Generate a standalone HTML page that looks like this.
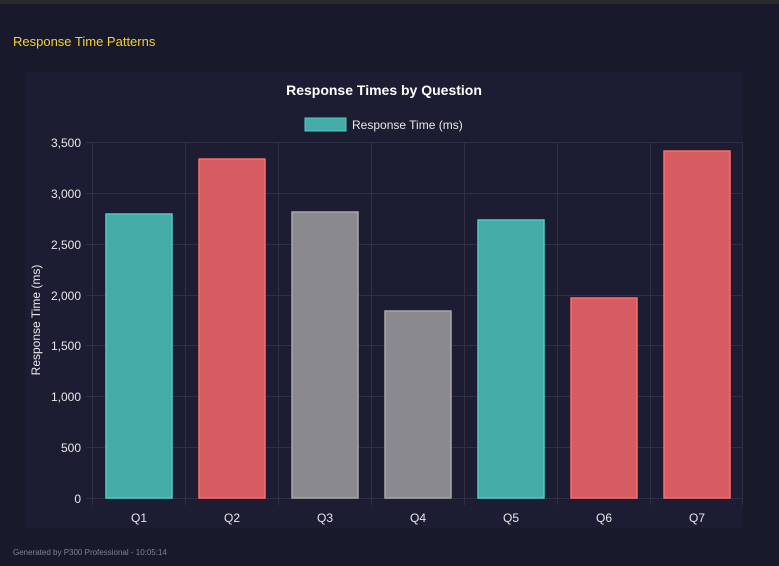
<!DOCTYPE html>
<html><head><style>
html,body{margin:0;padding:0;background:#181a2b;width:779px;height:566px;overflow:hidden;font-family:"Liberation Sans",sans-serif}
</style></head><body>
<svg width="779" height="566" xmlns="http://www.w3.org/2000/svg" font-family="Liberation Sans, sans-serif">
<rect x="0" y="0" width="779" height="566" fill="#181a2b"/>
<rect x="0" y="0" width="779" height="4" fill="#2a2a2e"/>
<text x="13" y="46" font-size="13" fill="#f5d033">Response Time Patterns</text>
<rect x="25" y="72" width="718" height="456" fill="#1c1d33"/>
<text x="384" y="95" font-size="14" font-weight="bold" fill="#ffffff" text-anchor="middle">Response Times by Question</text>
<rect x="305" y="118" width="41" height="13" fill="#44aba7" stroke="#4ecdc4" stroke-width="1"/>
<text x="352" y="129" font-size="12" fill="#e8e8e8">Response Time (ms)</text>
<g stroke="#2e3045" stroke-width="1">
<line x1="86" y1="142.5" x2="743" y2="142.5"/>
<line x1="86" y1="193.5" x2="743" y2="193.5"/>
<line x1="86" y1="244.5" x2="743" y2="244.5"/>
<line x1="86" y1="295.5" x2="743" y2="295.5"/>
<line x1="86" y1="345.5" x2="743" y2="345.5"/>
<line x1="86" y1="396.5" x2="743" y2="396.5"/>
<line x1="86" y1="447.5" x2="743" y2="447.5"/>
<line x1="86" y1="498.5" x2="743" y2="498.5"/>
<line x1="92.5" y1="142" x2="92.5" y2="505"/>
<line x1="185.5" y1="142" x2="185.5" y2="505"/>
<line x1="278.5" y1="142" x2="278.5" y2="505"/>
<line x1="371.5" y1="142" x2="371.5" y2="505"/>
<line x1="464.5" y1="142" x2="464.5" y2="505"/>
<line x1="557.5" y1="142" x2="557.5" y2="505"/>
<line x1="650.5" y1="142" x2="650.5" y2="505"/>
<line x1="742.5" y1="142" x2="742.5" y2="505"/>
</g>
<g font-size="12" fill="#e8e8e8" text-anchor="end">
<text x="81" y="147">3,500</text><text x="81" y="198">3,000</text><text x="81" y="249">2,500</text>
<text x="81" y="300">2,000</text><text x="81" y="350">1,500</text><text x="81" y="401">1,000</text>
<text x="81" y="452">500</text><text x="81" y="503">0</text>
</g>
<text transform="translate(40,320) rotate(-90)" font-size="12" fill="#e8e8e8" text-anchor="middle">Response Time (ms)</text>
<g stroke-width="1.5">
<rect x="106" y="214" width="66" height="284" fill="#44aba7" stroke="#4ecdc4"/>
<rect x="199" y="159" width="66" height="339" fill="#d65c62" stroke="#ff6b6b"/>
<rect x="292" y="212" width="66" height="286" fill="#8a898e" stroke="#a8a8a8"/>
<rect x="385" y="311" width="66" height="187" fill="#8a898e" stroke="#a8a8a8"/>
<rect x="478" y="220" width="66" height="278" fill="#44aba7" stroke="#4ecdc4"/>
<rect x="571" y="298" width="66" height="200" fill="#d65c62" stroke="#ff6b6b"/>
<rect x="664" y="151" width="66" height="347" fill="#d65c62" stroke="#ff6b6b"/>
</g>
<g font-size="12" fill="#e8e8e8" text-anchor="middle">
<text x="139" y="522">Q1</text><text x="232" y="522">Q2</text><text x="325" y="522">Q3</text>
<text x="418" y="522">Q4</text><text x="511" y="522">Q5</text><text x="604" y="522">Q6</text><text x="697" y="522">Q7</text>
</g>
<text x="13" y="555" font-size="8" fill="#80828f">Generated by P300 Professional - 10:05:14</text>
</svg>
</body></html>
